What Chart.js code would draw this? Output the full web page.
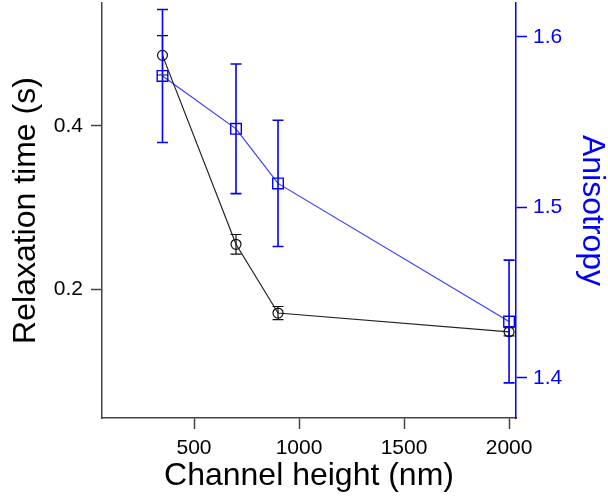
<!DOCTYPE html>
<html>
<head>
<meta charset="utf-8">
<script src="https://cdn.jsdelivr.net/npm/chart.js@4/dist/chart.umd.min.js"></script>
<style>
    html, body { margin: 0; padding: 0; background: #fff; }
    #wrap { width: 608px; height: 497px; }
</style>
</head>
<body>
<div id="wrap"><canvas id="LineChart" width="608" height="497"></canvas></div>
<script>
// values
const heights = [350, 700, 900, 2000];
const relaxTime = [0.486, 0.255, 0.171, 0.148];
const relaxErr = [0.024, 0.012, 0.008, 0.005];
const anisotropy = [1.577, 1.546, 1.514, 1.433];
const anisoErr = [0.039, 0.038, 0.037, 0.036];

const xTicks = [500, 1000, 1500, 2000];
const leftTicks = [0.2, 0.4];
const rightTicks = [1.4, 1.5, 1.6];

const FONT = "'Liberation Sans', Arial, sans-serif";
const BLUE = "#0000ff";

// vertical error bars with small caps, drawn through the chart's scales
const errorBars = {
    id: "errorBars",
    afterDatasetsDraw(chart) {
        let ctx = chart.ctx;
        let xScale = chart.scales.x;
        chart.data.datasets.forEach((ds) => {
            let yScale = chart.scales[ds.yAxisID];
            ctx.save();
            ctx.strokeStyle = ds.errColor;
            ctx.lineWidth = ds.errWidth;
            for (let i = 0; i < ds.data.length; i++) {
                let p = ds.data[i];
                let px = xScale.getPixelForValue(p.x);
                let top = yScale.getPixelForValue(p.y + ds.errors[i]);
                let bot = yScale.getPixelForValue(p.y - ds.errors[i]);
                ctx.beginPath();
                ctx.moveTo(px, top);
                ctx.lineTo(px, bot);
                ctx.moveTo(px - 5.5, top);
                ctx.lineTo(px + 5.5, top);
                ctx.moveTo(px - 5.5, bot);
                ctx.lineTo(px + 5.5, bot);
                ctx.stroke();
            }
            ctx.restore();
        });
    }
};

function toPoints(xs, ys) {
    return xs.map((x, i) => ({x: x, y: ys[i]}));
}

// fixed box sizes so the plot area lands where it is in the picture
function fitY(width) {
    return (s) => {
        s.width = width;
        s.paddingTop = 0;
        s.paddingBottom = 0;
    };
}

let ctx = document.getElementById("LineChart").getContext("2d");
let chart = new Chart(ctx, {
    type: "line",
    data: {
        datasets: [
            {
                label: "Relaxation time",
                data: toPoints(heights, relaxTime),
                errors: relaxErr,
                errColor: "#111",
                errWidth: 1.2,
                yAxisID: "y",
                borderColor: "#222",
                borderWidth: 1.2,
                tension: 0,
                pointStyle: "circle",
                pointRadius: 5,
                pointBorderWidth: 1.2,
                pointBorderColor: "#111",
                pointBackgroundColor: "rgba(0,0,0,0)"
            },
            {
                label: "Anisotropy",
                data: toPoints(heights, anisotropy),
                errors: anisoErr,
                errColor: BLUE,
                errWidth: 1.6,
                yAxisID: "y2",
                borderColor: "#3a3aff",
                borderWidth: 1.2,
                tension: 0,
                pointStyle: "rect",
                pointRadius: 7.5,
                pointBorderWidth: 1.4,
                pointBorderColor: BLUE,
                pointBackgroundColor: "rgba(0,0,0,0)"
            }
        ]
    },
    options: {
        responsive: false,
        animation: false,
        devicePixelRatio: 1,
        layout: {padding: {top: 3, left: 0, right: 0, bottom: 0}, autoPadding: false},
        plugins: {
            legend: {display: false},
            tooltip: {enabled: false}
        },
        scales: {
            x: {
                type: "linear",
                position: "bottom",
                min: 62,
                max: 2033,
                afterBuildTicks: (s) => { s.ticks = xTicks.map(v => ({value: v})); },
                afterFit: (s) => { s.height = 79; s.paddingLeft = 0; s.paddingRight = 0; },
                grid: {drawOnChartArea: false, drawTicks: true, tickLength: 11, color: "#444", tickWidth: 1.5},
                border: {display: true, color: "#444", width: 1.5},
                ticks: {color: "#000", font: {family: FONT, size: 21}, padding: 7, maxRotation: 0,
                    callback: (v) => String(v)},
                title: {display: true, text: "Channel height (nm)", color: "#000",
                    font: {family: FONT, size: 32, lineHeight: 1}, padding: {top: 0, bottom: 5}}
            },
            y: {
                type: "linear",
                position: "left",
                min: 0.0427,
                max: 0.55,
                afterBuildTicks: (s) => { s.ticks = leftTicks.map(v => ({value: v})); },
                afterFit: fitY(102),
                grid: {drawOnChartArea: false, drawTicks: true, tickLength: 11, color: "#444", tickWidth: 1.5},
                border: {display: true, color: "#444", width: 1.5},
                ticks: {color: "#000", font: {family: FONT, size: 21}, padding: 8,
                    callback: (v) => v.toFixed(1)},
                title: {display: true, text: "Relaxation time (s)", color: "#000",
                    font: {family: FONT, size: 32, lineHeight: 1}, padding: {top: 10, bottom: 0}}
            },
            y2: {
                type: "linear",
                position: "right",
                min: 1.3764,
                max: 1.6198,
                afterBuildTicks: (s) => { s.ticks = rightTicks.map(v => ({value: v})); },
                afterFit: fitY(92),
                grid: {drawOnChartArea: false, drawTicks: true, tickLength: 11, color: BLUE, tickWidth: 1.5},
                border: {display: true, color: BLUE, width: 1.5},
                ticks: {color: BLUE, font: {family: FONT, size: 21}, padding: 6,
                    callback: (v) => v.toFixed(1)},
                title: {display: true, text: "Anisotropy", color: BLUE,
                    font: {family: FONT, size: 32, lineHeight: 1}, padding: {top: 0, bottom: 0}}
            }
        }
    },
    plugins: [errorBars]
});
</script>
</body>
</html>
